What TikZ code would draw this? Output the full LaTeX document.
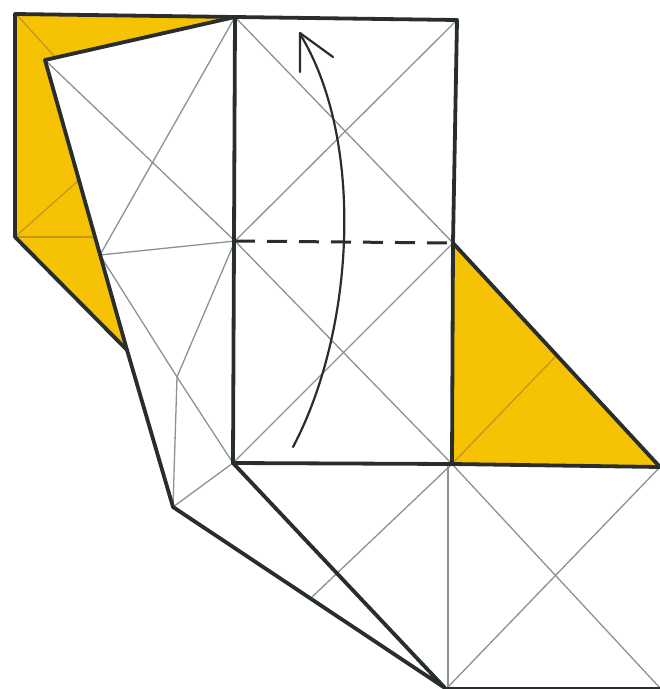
\documentclass[tikz,border=0pt]{standalone}
\usetikzlibrary{calc}
\definecolor{paperyellow}{RGB}{246,194,4}
\definecolor{edgeink}{RGB}{40,46,43}
\definecolor{creaseink}{RGB}{140,146,143}
\definecolor{goldcrease}{RGB}{196,150,30}
\tikzset{
  edge/.style={draw=edgeink,line width=3.8pt,line join=round,line cap=round},
  crease/.style={draw=creaseink,line width=1.3pt,line cap=round},
  goldfold/.style={draw=goldcrease,line width=1.3pt,line cap=round},
  valley/.style={draw=edgeink,line width=3pt,dash pattern=on 20pt off 12pt},
  movearrow/.style={draw=edgeink,line width=2.2pt,line cap=round,line join=round},
  coloured/.style={fill=paperyellow}
}
\begin{document}
\begin{tikzpicture}[x=1pt,y=-1pt]
\useasboundingbox (0,0) rectangle (660,689);
% key points of the folded model
\coordinate (A) at (15,14);
\coordinate (T) at (235,17);
\coordinate (TR) at (457,20);
\coordinate (F) at (45,60);
\coordinate (Lq) at (15,237);
\coordinate (Y) at (127,350);
\coordinate (M) at (235,241);
\coordinate (MR) at (453,243);
\coordinate (BL) at (233,463);
\coordinate (BR) at (452,464);
\coordinate (YR) at (660,467);
\coordinate (H) at (556,356);
\coordinate (P) at (100,255);
\coordinate (Q) at (177,377);
\coordinate (K) at (173,507);
\coordinate (Z) at (445,688);
\coordinate (BRR) at (660,688);
\coordinate (W) at (312,597);
% coloured side of the paper
\fill[coloured] (A) -- (T) -- (F) -- (Y) -- (Lq) -- cycle;
\fill[coloured] (MR) -- (BR) -- (YR) -- cycle;
% creases on the coloured flaps
\draw[goldfold] (17,15) -- (55,57);
\draw[goldfold] (Lq) -- (79,180);
\draw[goldfold] (Lq) -- (95,237);
\draw[goldfold] (BR) -- (H);
% creases on the white flap
\draw[crease] (F) -- (M);
\draw[crease] (T) -- (P);
\draw[crease] (P) -- (M);
\draw[crease] (P) -- (Q);
\draw[crease] (M) -- (Q);
\draw[crease] (Q) -- (K);
\draw[crease] (Q) -- (BL);
\draw[crease] (K) -- (BL);
\draw[crease] (BR) -- (W);
% creases in the central column
\draw[crease] (T) -- (MR);
\draw[crease] (TR) -- (M);
\draw[crease] (M) -- (BR);
\draw[crease] (MR) -- (BL);
% creases in the lower square
\draw[crease] (448,466) -- (448,687);
\draw[crease] (BR) -- (BRR);
\draw[crease] (YR) -- (448,687);
% raw edges
\draw[edge] (Lq) -- (A) -- (T) -- (TR) -- (MR) -- (BR) -- (YR) -- (MR);
\draw[edge] (Lq) -- (Y);
\draw[edge] (T) -- (F) -- (Y) -- (K) -- (Z) -- (BL) -- (T);
\draw[edge] (BL) -- (BR);
\draw[edge,line width=2pt] (Z) -- (BRR);
% valley fold
\draw[valley] (M) -- (MR);
% fold-up arrow
\draw[movearrow] (293,447) .. controls (355,330) and (365,140) .. (300,34);
\draw[movearrow] (300,72) -- (300,33) -- (333,57);
\end{tikzpicture}
\end{document}
